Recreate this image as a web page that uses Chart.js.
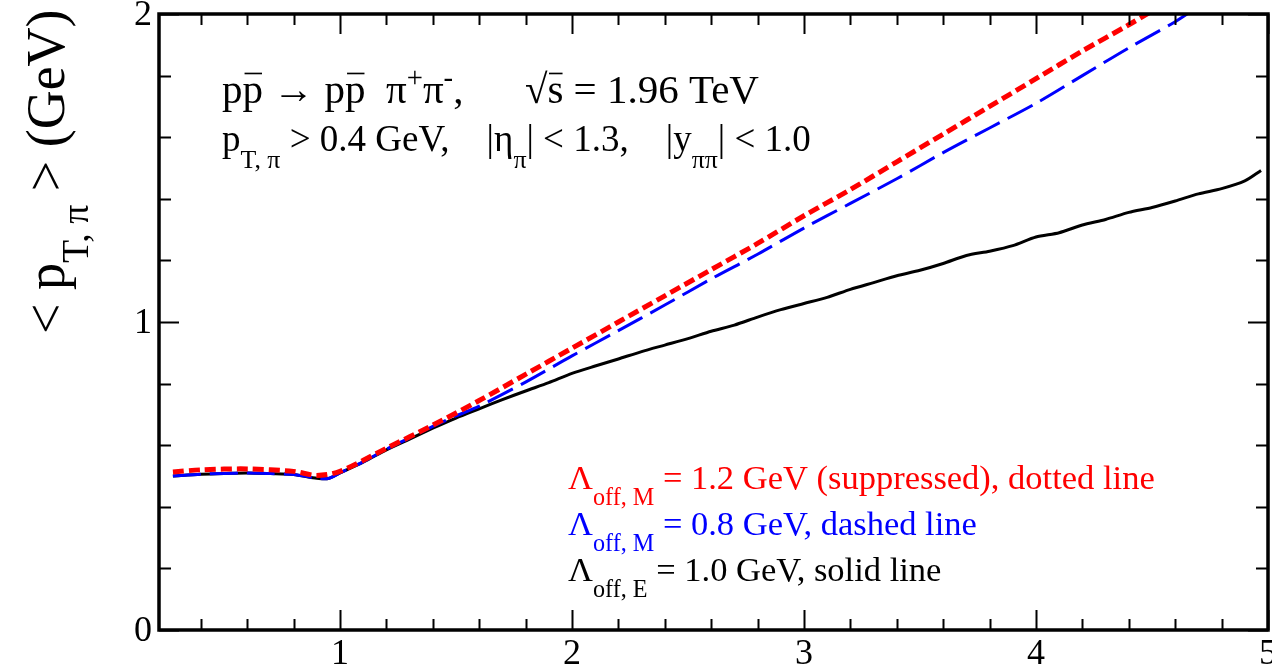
<!DOCTYPE html>
<html>
<head>
<meta charset="utf-8">
<script src="https://cdn.jsdelivr.net/npm/chart.js@4.4.0/dist/chart.umd.min.js"></script>
<style>
  html, body { margin: 0; padding: 0; background: #fff; }
  #wrap { width: 1272px; height: 670px; }
</style>
</head>
<body>
<div id="wrap"><canvas id="grafico" width="1272" height="670"></canvas></div>
<script>
// Valores medios de p_T del pion frente a la masa invariante M_pipi (GeV)
const xLow = [0.28, 0.4, 0.5, 0.6, 0.7, 0.8, 0.9, 0.95, 1.0, 1.1, 1.2, 1.3, 1.4, 1.5];

// Lambda_off,E = 1.0 GeV (linea continua)
const xSolid = xLow.concat([1.6, 1.7, 1.8, 1.9, 2.0, 2.1, 2.2, 2.3, 2.4, 2.5, 2.6, 2.7, 2.8, 2.9, 3.0,
  3.1, 3.2, 3.3, 3.4, 3.5, 3.6, 3.7, 3.8, 3.9, 4.0, 4.1, 4.2, 4.3, 4.4, 4.5, 4.6, 4.7, 4.8, 4.9, 4.97]);
const ySolid = [0.500, 0.506, 0.508, 0.510, 0.508, 0.505, 0.493, 0.492, 0.510, 0.545, 0.585, 0.620, 0.655, 0.688,
  0.718, 0.748, 0.776, 0.803, 0.833, 0.857, 0.880, 0.904, 0.925, 0.946, 0.970, 0.990, 1.016, 1.040, 1.060,
  1.080, 1.106, 1.128, 1.150, 1.168, 1.190, 1.216, 1.230, 1.248, 1.276, 1.290, 1.315, 1.333, 1.356, 1.372,
  1.393, 1.416, 1.433, 1.458, 1.492];

// Lambda_off,M = 0.8 GeV (discontinua)
const xDashed = xLow.concat([1.6, 1.8, 2.0, 2.2, 2.4, 2.6, 2.8, 3.0, 3.2, 3.4, 3.6, 3.8, 4.0, 4.2, 4.4, 4.6, 4.7]);
const yDashed = [0.500, 0.506, 0.508, 0.510, 0.508, 0.505, 0.493, 0.492, 0.510, 0.546, 0.587, 0.624, 0.661, 0.695,
  0.727, 0.805, 0.890, 0.972, 1.055, 1.140, 1.220, 1.305, 1.385, 1.465, 1.550, 1.630, 1.710, 1.800, 1.890,
  1.975, 2.025];

// Lambda_off,M = 1.2 GeV suprimido (punteada)
const xDotted = [0.28, 0.4, 0.6, 0.8, 0.9, 1.0, 1.2, 1.4, 1.6, 1.8, 2.0, 2.2, 2.4, 2.6, 2.8, 3.0,
  3.2, 3.4, 3.6, 3.8, 4.0, 4.2, 4.4, 4.5];
const yDotted = [0.513, 0.520, 0.523, 0.515, 0.502, 0.515, 0.590, 0.665, 0.745, 0.830, 0.915, 1.000,
  1.085, 1.170, 1.255, 1.345, 1.430, 1.520, 1.610, 1.700, 1.790, 1.880, 1.965, 2.010];

// Ejes
const xMin = 0.22, xMax = 5;
const yMin = 0, yMax = 2;
const xMajor = [1, 2, 3, 4, 5];
const yMajor = [0, 1, 2];
const minorStep = 0.2;

const SERIF = '"Liberation Serif", "DejaVu Serif", serif';

const puntos = (xs, ys) => xs.map((x, i) => ({ x: x, y: ys[i] }));

// Texto con subindices, superindices y barras
function textoRico(ctx, x, y, partes, size, color) {
  ctx.save();
  ctx.fillStyle = color;
  ctx.strokeStyle = color;
  ctx.textBaseline = 'alphabetic';
  ctx.textAlign = 'left';
  let cx = x;
  partes.forEach(p => {
    const s = (p.sub || p.sup) ? size * 0.7 : size;
    ctx.font = s + 'px ' + SERIF;
    let dy = 0;
    if (p.sub) dy = size * 0.45;
    if (p.sup) dy = -size * 0.38;
    ctx.fillText(p.t, cx, y + dy);
    const w = ctx.measureText(p.t).width;
    if (p.bar) {
      ctx.lineWidth = Math.max(1, size * 0.04);
      ctx.beginPath();
      ctx.moveTo(cx + w * 0.1, y - size * 0.72);
      ctx.lineTo(cx + w * 0.95, y - size * 0.72);
      ctx.stroke();
    }
    cx += w;
  });
  ctx.restore();
}

const marco = {
  id: 'marco',
  afterDatasetsDraw(chart) {
    const ctx = chart.ctx;
    const a = chart.chartArea;
    const sx = chart.scales.x, sy = chart.scales.y;
    ctx.save();
    ctx.strokeStyle = '#000';
    ctx.lineWidth = 2;
    // marcas hacia dentro, en los cuatro lados
    for (let v = Math.ceil(xMin / minorStep) * minorStep; v <= xMax + 1e-9; v += minorStep) {
      const px = Math.round(sx.getPixelForValue(v)) + 0.5;
      const mayor = Math.abs(v - Math.round(v)) < 1e-6;
      const L = mayor ? 20 : 11;
      ctx.beginPath();
      ctx.moveTo(px, a.bottom); ctx.lineTo(px, a.bottom - L);
      ctx.moveTo(px, a.top); ctx.lineTo(px, a.top + L);
      ctx.stroke();
    }
    for (let v = yMin; v <= yMax + 1e-9; v += minorStep) {
      const py = Math.round(sy.getPixelForValue(v)) + 0.5;
      const mayor = Math.abs(v - Math.round(v)) < 1e-6;
      const L = mayor ? 20 : 12;
      ctx.beginPath();
      ctx.moveTo(a.left, py); ctx.lineTo(a.left + L, py);
      ctx.moveTo(a.right, py); ctx.lineTo(a.right - L, py);
      ctx.stroke();
    }
    ctx.lineWidth = 3.5;
    ctx.strokeRect(a.left, a.top, a.right - a.left, a.bottom - a.top);

    // etiquetas de los ejes
    ctx.fillStyle = '#000';
    ctx.font = '36px ' + SERIF;
    ctx.textAlign = 'center';
    ctx.textBaseline = 'alphabetic';
    xMajor.forEach(v => ctx.fillText(String(v), sx.getPixelForValue(v), 664));
    ctx.textAlign = 'right';
    ctx.textBaseline = 'middle';
    yMajor.forEach(v => ctx.fillText(String(v), 152, sy.getPixelForValue(v) + 2));

    // titulo del eje y, girado
    ctx.save();
    ctx.translate(64, 334);
    ctx.rotate(-Math.PI / 2);
    textoRico(ctx, 0, 0, [{ t: '< p' }, { t: 'T, \u03c0', sub: true }, { t: ' > (GeV)' }], 54, '#000');
    ctx.restore();

    // proceso y cortes
    textoRico(ctx, 222, 103, [
      { t: 'p' }, { t: 'p', bar: true }, { t: ' \u2192 p' }, { t: 'p', bar: true }, { t: '  \u03c0' },
      { t: '+', sup: true }, { t: '\u03c0' }, { t: '-', sup: true }, { t: ',      \u221a' },
      { t: 's', bar: true }, { t: ' = 1.96 TeV' }
    ], 41, '#000');
    textoRico(ctx, 222, 151, [
      { t: 'p' }, { t: 'T, \u03c0', sub: true }, { t: ' > 0.4 GeV,    |\u03b7' }, { t: '\u03c0', sub: true },
      { t: '| < 1.3,    |y' }, { t: '\u03c0\u03c0', sub: true }, { t: '| < 1.0' }
    ], 37, '#000');

    // leyenda en texto
    textoRico(ctx, 568, 489, [{ t: '\u039b' }, { t: 'off, M', sub: true },
      { t: ' = 1.2 GeV (suppressed), dotted line' }], 34.5, '#ff0000');
    textoRico(ctx, 568, 535, [{ t: '\u039b' }, { t: 'off, M', sub: true },
      { t: ' = 0.8 GeV, dashed line' }], 34.5, '#0000ff');
    textoRico(ctx, 568, 581, [{ t: '\u039b' }, { t: 'off, E', sub: true },
      { t: ' = 1.0 GeV, solid line' }], 34.5, '#000');
    ctx.restore();
  }
};

const ctx = document.getElementById('grafico').getContext('2d');
const grafico = new Chart(ctx, {
  type: 'line',
  data: {
    datasets: [
      {
        label: 'dotted',
        data: puntos(xDotted, yDotted),
        borderColor: '#ff0000',
        borderWidth: 5,
        borderDash: [11, 5],
        pointRadius: 0,
        tension: 0.3,
        order: 1
      },
      {
        label: 'dashed',
        data: puntos(xDashed, yDashed),
        borderColor: '#0000ff',
        borderWidth: 3,
        borderDash: [28, 9],
        pointRadius: 0,
        tension: 0.3,
        order: 2
      },
      {
        label: 'solid',
        data: puntos(xSolid, ySolid),
        borderColor: '#000000',
        borderWidth: 3,
        pointRadius: 0,
        tension: 0.25,
        order: 3
      }
    ]
  },
  options: {
    responsive: false,
    animation: false,
    layout: { padding: { left: 159, top: 14, right: 4, bottom: 40 } },
    plugins: {
      legend: { display: false },
      tooltip: { enabled: false }
    },
    scales: {
      x: { type: 'linear', min: xMin, max: xMax, display: false },
      y: { type: 'linear', min: yMin, max: yMax, display: false }
    }
  },
  plugins: [marco]
});
</script>
</body>
</html>
